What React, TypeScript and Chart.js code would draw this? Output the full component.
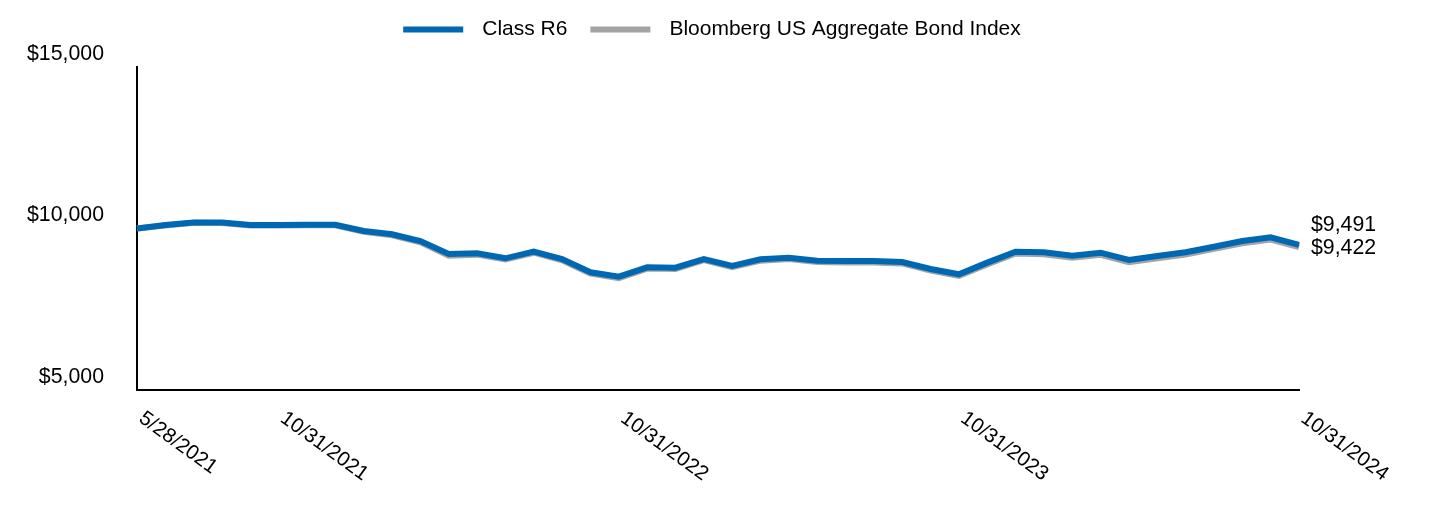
import React, { useEffect, useRef } from "react";
import { Chart, registerables } from "chart.js";

Chart.register(...registerables);

const categories = [
  "5/28/2021", "6/30/2021", "7/31/2021", "8/31/2021", "9/30/2021", "10/31/2021", "11/30/2021", "12/31/2021",
  "1/31/2022", "2/28/2022", "3/31/2022", "4/30/2022", "5/31/2022", "6/30/2022", "7/31/2022", "8/31/2022",
  "9/30/2022", "10/31/2022", "11/30/2022", "12/31/2022",
  "1/31/2023", "2/28/2023", "3/31/2023", "4/30/2023", "5/31/2023", "6/30/2023", "7/31/2023", "8/31/2023",
  "9/30/2023", "10/31/2023", "11/30/2023", "12/31/2023",
  "1/31/2024", "2/29/2024", "3/31/2024", "4/30/2024", "5/31/2024", "6/30/2024", "7/31/2024", "8/31/2024",
  "9/30/2024", "10/31/2024",
];

const classR6 = [
  10000, 10108, 10188, 10188, 10108, 10108, 10117, 10117, 9923, 9820, 9613, 9210, 9232, 9077, 9282, 9055,
  8643, 8508, 8798, 8787, 9055, 8839, 9046, 9096, 9003, 8994, 8994, 8963, 8746, 8582, 8943, 9282,
  9263, 9158, 9251, 9025, 9149, 9263, 9437, 9613, 9727, 9491,
];

const bloombergIndex = [
  10000, 10095, 10180, 10172, 10095, 10090, 10098, 10100, 9900, 9790, 9570, 9160, 9190, 9040, 9250, 9015,
  8600, 8465, 8760, 8750, 9020, 8800, 9005, 9055, 8960, 8950, 8950, 8920, 8700, 8530, 8890, 9225,
  9205, 9095, 9185, 8955, 9080, 9195, 9370, 9545, 9660, 9422,
];

const xTickLabels = ["5/28/2021", "10/31/2021", "10/31/2022", "10/31/2023", "10/31/2024"];
const yTickValues = [5000, 10000, 15000];
const seriesNames = ["Class R6", "Bloomberg US Aggregate Bond Index"];
const endLabels = ["$9,491", "$9,422"];

const FONT = '"Liberation Sans", Arial, Helvetica, sans-serif';
const FONT_SIZE = 21.3;
const XLABEL_SIZE = 20.5;
const BLUE = "#0068b2";
const GRAY = "#a3a4a5";

const overlayPlugin = {
  id: "overlay",
  afterDraw(chart: any) {
    const { ctx, chartArea, scales } = chart;
    const xs = scales.x;
    const ys = scales.y;
    ctx.save();
    ctx.fillStyle = "#000";

    // rotated x-axis labels
    ctx.font = `${XLABEL_SIZE}px ${FONT}`;
    xTickLabels.forEach((lbl) => {
      const idx = categories.indexOf(lbl);
      const px = xs.getPixelForValue(idx);
      ctx.save();
      ctx.translate(px + 10, chartArea.bottom + 18);
      ctx.rotate((36 * Math.PI) / 180);
      ctx.textAlign = "left";
      ctx.textBaseline = "top";
      ctx.fillText(lbl, 0, 0);
      ctx.restore();
    });

    ctx.font = `${FONT_SIZE}px ${FONT}`;
    // end-value labels
    ctx.textAlign = "left";
    ctx.textBaseline = "middle";
    const lastR6 = classR6[classR6.length - 1];
    const lastIdx = bloombergIndex[bloombergIndex.length - 1];
    ctx.fillText(endLabels[0], chartArea.right + 12, ys.getPixelForValue(lastR6) - 20);
    ctx.fillText(endLabels[1], chartArea.right + 12, ys.getPixelForValue(lastIdx) + 1);

    // legend
    ctx.font = `21px ${FONT}`;
    const datasets = chart.data.datasets;
    const boxW = 60;
    const boxH = 6;
    const gapText = 19;
    const gapItem = 23;
    const widths = datasets.map((d: any) => ctx.measureText(d.label).width);
    let total = 0;
    widths.forEach((w: number, i: number) => {
      total += boxW + gapText + w + (i < widths.length - 1 ? gapItem : 0);
    });
    let cx = (chartArea.left + chartArea.right) / 2 - 6 - total / 2;
    const cy = 21.5;
    datasets.forEach((d: any, i: number) => {
      ctx.fillStyle = d.borderColor;
      ctx.fillRect(cx, cy - boxH / 2, boxW, boxH);
      ctx.fillStyle = "#000";
      ctx.fillText(d.label, cx + boxW + gapText, cy);
      cx += boxW + gapText + widths[i] + gapItem;
    });
    ctx.restore();
  },
};

export default function App() {
  const canvasRef = useRef<HTMLCanvasElement | null>(null);

  useEffect(() => {
    if (!canvasRef.current) return;
    const chart = new Chart(canvasRef.current, {
      type: "line",
      data: {
        labels: categories,
        datasets: [
          {
            label: seriesNames[0],
            data: classR6,
            borderColor: BLUE,
            backgroundColor: BLUE,
            borderWidth: 6,
            pointRadius: 0,
            tension: 0,
            fill: false,
          },
          {
            label: seriesNames[1],
            data: bloombergIndex,
            borderColor: GRAY,
            backgroundColor: GRAY,
            borderWidth: 6,
            pointRadius: 0,
            tension: 0,
            fill: false,
          },
        ],
      },
      options: {
        responsive: false,
        animation: false,
        devicePixelRatio: 1,
        layout: { padding: { top: 59, right: 133, left: 0, bottom: 0 } },
        plugins: {
          legend: { display: false },
          tooltip: { enabled: false },
          title: { display: false },
        },
        scales: {
          x: {
            type: "category",
            offset: false,
            grid: { display: false, drawTicks: false, tickLength: 0 },
            border: { display: true, color: "#000", width: 2 },
            ticks: { display: false },
            afterFit: (scale: any) => {
              scale.height = 118;
            },
          },
          y: {
            min: 5000,
            max: 15000,
            grid: { display: false, drawTicks: false, tickLength: 0 },
            border: { display: true, color: "#000", width: 2 },
            afterBuildTicks: (scale: any) => {
              scale.ticks = yTickValues.map((v) => ({ value: v }));
            },
            ticks: {
              padding: 33,
              labelOffset: -13,
              color: "#000",
              font: { family: FONT, size: FONT_SIZE },
              callback: (v: any) => "$" + Number(v).toLocaleString("en-US"),
            },
            afterFit: (scale: any) => {
              scale.width = 129;
            },
          },
        },
      },
      plugins: [overlayPlugin],
    });
    return () => chart.destroy();
  }, []);

  return (
    <div style={{ width: 1424, height: 500 }}>
      <canvas ref={canvasRef} width={1424} height={500} />
    </div>
  );
}
